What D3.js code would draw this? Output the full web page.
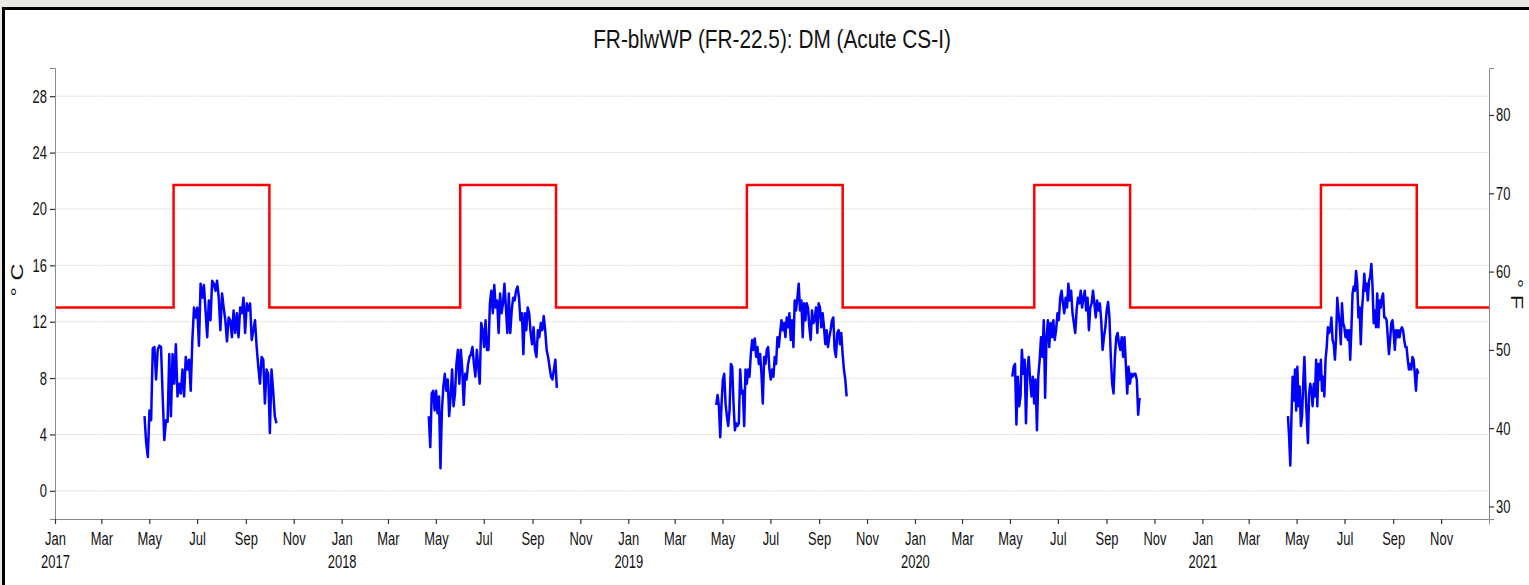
<!DOCTYPE html>
<html>
<head>
<meta charset="utf-8">
<script src="https://cdn.jsdelivr.net/npm/d3@7"></script>
<style>
  body { margin: 0; background-color: #e9e9e5; overflow: hidden; }
  text { font-family: 'Liberation Sans', Arial, sans-serif; }
</style>
</head>
<body>
<div id="container"></div>
<script>
// tick labels
const celsiusTicks = [0, 4, 8, 12, 16, 20, 24, 28];
const fahrenheitTicks = [30, 40, 50, 60, 70, 80];
const monthLabels = ['Jan', 'Mar', 'May', 'Jul', 'Sep', 'Nov'];

// threshold (red step line)
const thresholdDates = ['2017-01-01', '2017-06-01', '2017-10-01', '2018-06-01', '2018-10-01',
  '2019-06-01', '2019-10-01', '2020-06-01', '2020-10-01', '2021-06-01', '2021-10-01', '2022-01-01'];
const thresholdValues = [13, 21.7, 13, 21.7, 13, 21.7, 13, 21.7, 13, 21.7, 13, 13];

// measured temperature, one array per season (deg C)
const seasonStarts = ['2017-04-25', '2018-04-22', '2019-04-23', '2020-05-04', '2021-04-20'];
const seasonEnds = ['2017-10-10', '2018-10-02', '2019-10-06', '2020-10-13', '2021-10-03'];

const temps2017 = [5.3, 3.4, 2.4, 5.7, 5.0, 10.1, 10.2, 7.9, 10.0, 10.3, 10.2, 6.7, 3.6, 5.0, 4.9, 9.7,
  5.3, 9.7, 7.6, 10.4, 6.7, 7.6, 6.9, 8.6, 6.7, 9.5, 8.6, 9.3, 7.1, 10.7, 13.0, 12.3, 13.0, 10.3, 14.7,
  13.7, 14.6, 12.8, 10.9, 13.5, 12.1, 14.9, 14.7, 14.2, 14.9, 13.7, 11.4, 14.0, 13.0, 12.1, 10.6, 12.3,
  12.1, 10.9, 12.8, 11.2, 12.6, 10.9, 13.0, 12.6, 13.7, 11.2, 13.3, 12.8, 13.3, 10.7, 11.4, 12.1, 10.2,
  8.8, 7.6, 9.5, 9.3, 6.2, 8.6, 8.3, 4.1, 8.6, 7.1, 5.3, 4.8];

const temps2018 = [5.3, 3.1, 6.9, 7.1, 5.7, 7.1, 5.5, 6.7, 1.6, 5.7, 7.4, 8.3, 7.1, 7.9, 5.3, 6.7, 8.6,
  6.0, 6.9, 9.0, 10.0, 7.6, 10.0, 8.6, 6.1, 8.3, 7.9, 9.0, 9.5, 9.7, 10.2, 9.0, 8.1, 10.0, 8.8, 7.6, 11.9,
  11.4, 10.2, 12.1, 10.0, 10.0, 13.3, 14.2, 12.6, 14.6, 13.0, 13.5, 11.2, 14.0, 12.6, 13.3, 14.7, 13.0,
  11.2, 14.0, 11.2, 12.8, 13.7, 13.5, 14.2, 14.5, 13.7, 12.1, 12.6, 9.7, 12.6, 11.4, 13.0, 12.6, 11.2,
  10.4, 11.6, 10.0, 9.5, 11.4, 10.9, 11.9, 11.4, 12.4, 11.4, 10.0, 9.5, 8.8, 8.1, 7.9, 8.6, 9.3, 7.3];

const temps2019 = [6.1, 6.8, 6.0, 3.8, 6.2, 7.9, 8.3, 6.2, 5.3, 4.6, 5.7, 9.0, 8.8, 6.2, 4.3, 4.8, 4.6,
  4.8, 8.6, 6.9, 7.1, 4.6, 8.6, 7.6, 8.6, 8.1, 9.7, 10.7, 10.0, 10.8, 9.5, 10.2, 9.0, 9.7, 8.3, 6.2, 9.5,
  9.0, 10.0, 10.2, 8.6, 7.9, 8.6, 8.1, 9.5, 9.0, 10.9, 10.2, 11.2, 12.1, 11.4, 11.9, 10.9, 12.3, 11.6,
  12.6, 10.7, 12.1, 10.2, 13.5, 12.8, 13.7, 14.7, 12.8, 13.5, 10.9, 13.3, 12.1, 13.3, 13.0, 11.6, 10.7,
  12.8, 11.9, 12.1, 13.0, 11.2, 13.3, 13.0, 11.6, 12.6, 11.6, 10.4, 11.4, 10.2, 10.9, 11.4, 12.1, 12.3,
  10.0, 9.5, 11.2, 11.4, 10.4, 11.2, 9.7, 8.6, 7.9, 6.7];

const temps2020 = [8.1, 8.8, 9.0, 4.7, 8.1, 6.0, 6.7, 10.0, 8.3, 9.3, 4.8, 8.6, 9.5, 7.9, 6.7, 8.1, 6.2,
  7.9, 4.3, 8.1, 9.3, 10.9, 9.5, 12.1, 6.6, 10.9, 12.1, 10.2, 11.9, 10.9, 12.1, 10.7, 11.4, 12.6, 12.1,
  13.7, 14.2, 13.3, 12.6, 13.7, 13.0, 14.7, 13.5, 14.2, 12.6, 11.9, 11.2, 12.8, 13.7, 13.3, 14.2, 13.0,
  13.7, 14.2, 12.8, 13.7, 11.4, 13.0, 13.3, 14.2, 13.3, 12.3, 13.5, 12.8, 13.3, 12.1, 10.0, 10.9, 11.6,
  12.8, 13.4, 12.3, 9.5, 7.6, 6.9, 9.5, 10.9, 11.2, 10.4, 10.0, 10.9, 9.5, 10.9, 9.0, 6.9, 8.8, 7.6, 8.3,
  8.1, 8.3, 8.3, 7.9, 5.4, 6.6];

const temps2021 = [5.3, 3.8, 1.8, 5.3, 8.1, 6.4, 8.6, 5.7, 8.8, 6.0, 7.4, 4.6, 5.3, 7.6, 9.5, 7.1, 5.3,
  3.4, 6.9, 7.6, 7.1, 6.0, 7.6, 6.7, 9.3, 6.0, 9.0, 7.9, 9.3, 7.1, 8.1, 6.7, 9.3, 10.2, 11.6, 11.2, 11.4,
  12.3, 10.7, 10.4, 9.3, 10.9, 13.7, 12.6, 11.9, 10.4, 13.3, 11.9, 11.6, 10.9, 11.4, 10.7, 11.4, 9.3,
  11.4, 14.0, 14.5, 14.2, 15.6, 14.7, 12.3, 13.0, 10.4, 12.8, 14.0, 15.4, 14.2, 14.7, 13.5, 14.9, 15.2,
  16.1, 14.5, 11.9, 12.8, 11.6, 14.0, 11.6, 13.5, 13.0, 13.7, 14.0, 12.3, 12.3, 12.1, 10.9, 9.7, 10.7,
  11.9, 12.1, 11.2, 10.0, 11.4, 10.9, 11.4, 10.9, 11.4, 11.6, 11.4, 10.7, 10.2, 10.2, 9.3, 8.6, 9.0, 8.6,
  9.5, 9.3, 8.3, 7.1, 8.6, 8.3];

const seasonTemps = [temps2017, temps2018, temps2019, temps2020, temps2021];

let svg, xScale, yScale, fScale,
  svgWidth = 1529,
  svgHeight = 585,
  plotLeft = 55,
  plotRight = 1489,
  plotTop = 68,
  plotBottom = 519,
  squeeze = 0.7; // the source picture is horizontally squashed, text included

const parseDate = d3.timeParse('%Y-%m-%d');

const drawGraph = () => {
  svg = d3.select('#container')
    .append('svg')
    .attr('width', svgWidth)
    .attr('height', svgHeight)
    .style('display', 'block');

  svg.append('rect')
    .attr('x', 3.5)
    .attr('y', 8.5)
    .attr('width', svgWidth + 20)
    .attr('height', svgHeight + 20)
    .attr('fill', 'white')
    .attr('stroke', 'black')
    .attr('stroke-width', 3);

  svg.append('text')
    .attr('transform', `translate(${(plotLeft + plotRight) / 2},48) scale(0.8,1)`)
    .attr('text-anchor', 'middle')
    .attr('font-size', 26)
    .attr('fill', '#111')
    .text('FR-blwWP (FR-22.5): DM (Acute CS-I)');
};

const generateScales = () => {
  xScale = d3.scaleTime()
    .domain([parseDate('2017-01-01'), parseDate('2022-01-01')])
    .range([plotLeft, plotRight]);

  yScale = d3.scaleLinear().domain([-2, 30]).range([plotBottom, plotTop]);
  fScale = d3.scaleLinear().domain([-2 * 9 / 5 + 32, 30 * 9 / 5 + 32]).range([plotBottom, plotTop]);
};

const monthTicks = () => d3.timeMonth.every(2).range(parseDate('2017-01-01'), parseDate('2021-12-31'));

const drawGrid = () => {
  svg.append('g')
    .selectAll('line')
    .data(celsiusTicks)
    .enter()
    .append('line')
    .attr('x1', plotLeft)
    .attr('x2', plotRight)
    .attr('y1', (d) => yScale(d))
    .attr('y2', (d) => yScale(d))
    .attr('stroke', '#e6e6e6')
    .attr('stroke-width', 1);

  svg.append('g')
    .selectAll('line')
    .data(monthTicks())
    .enter()
    .append('line')
    .attr('x1', (d) => xScale(d))
    .attr('x2', (d) => xScale(d))
    .attr('y1', plotTop)
    .attr('y2', plotBottom)
    .attr('stroke', 'white')
    .attr('stroke-width', 1);
};

const drawLines = () => {
  const thresholdData = thresholdDates.map((d, i) => ({ date: parseDate(d), value: thresholdValues[i] }));

  const stepLine = d3.line()
    .curve(d3.curveStepAfter)
    .x((d) => xScale(d.date))
    .y((d) => yScale(d.value));

  svg.append('path')
    .datum(thresholdData)
    .attr('d', stepLine)
    .attr('fill', 'none')
    .attr('stroke', '#ff0000')
    .attr('stroke-width', 2.5);

  const tempLine = d3.line()
    .x((d) => xScale(d.date))
    .y((d) => yScale(d.value));

  seasonTemps.forEach((values, i) => {
    const start = parseDate(seasonStarts[i]).getTime();
    const end = parseDate(seasonEnds[i]).getTime();
    const when = d3.scaleLinear().domain([0, values.length - 1]).range([start, end]);
    const series = values.map((v, j) => ({ date: new Date(when(j)), value: v }));

    svg.append('path')
      .datum(series)
      .attr('d', tempLine)
      .attr('fill', 'none')
      .attr('stroke', '#0000ff')
      .attr('stroke-width', 2.5)
      .attr('stroke-linejoin', 'round');
  });
};

const generateAxes = () => {
  const leftAxis = d3.axisLeft(yScale).tickValues(celsiusTicks).tickSize(5).tickPadding(3);
  const rightAxis = d3.axisRight(fScale).tickValues(fahrenheitTicks).tickSize(5).tickPadding(3);
  const bottomAxis = d3.axisBottom(xScale)
    .tickValues(monthTicks())
    .tickSize(5)
    .tickPadding(8)
    .tickFormat((d) => monthLabels[d.getMonth() / 2]);

  const gl = svg.append('g').attr('transform', `translate(${plotLeft},0)`).call(leftAxis);
  const gr = svg.append('g').attr('transform', `translate(${plotRight},0)`).call(rightAxis);
  const gb = svg.append('g').attr('transform', `translate(0,${plotBottom})`).call(bottomAxis);

  [gl, gr, gb].forEach((g) => {
    g.attr('font-family', null).attr('font-size', null);
    g.select('.domain').attr('stroke', '#8a8a8a').attr('stroke-width', 1);
    g.selectAll('.tick line').attr('stroke', '#333').attr('stroke-width', 1.2);
    g.selectAll('.tick text')
      .attr('font-size', 18.5)
      .attr('fill', '#111')
      .attr('transform', `scale(${squeeze},1)`);
  });

  gl.selectAll('.tick text').attr('x', -8 / squeeze);
  gr.selectAll('.tick text').attr('x', 7 / squeeze);

  gb.selectAll('.tick')
    .filter((d) => d.getMonth() === 0)
    .append('text')
    .attr('y', 49)
    .attr('text-anchor', 'middle')
    .attr('font-size', 18.5)
    .attr('fill', '#111')
    .attr('transform', `scale(${squeeze},1)`)
    .text((d) => d.getFullYear());

  svg.append('text')
    .attr('transform', `translate(23,280) rotate(-90) scale(1,${squeeze})`)
    .attr('text-anchor', 'middle')
    .attr('font-size', 23.5)
    .attr('fill', '#111')
    .text('° C');

  svg.append('text')
    .attr('transform', `translate(1511,294) rotate(90) scale(1,${squeeze})`)
    .attr('text-anchor', 'middle')
    .attr('font-size', 23.5)
    .attr('fill', '#111')
    .text('° F');
};

drawGraph();
generateScales();
drawGrid();
drawLines();
generateAxes();
</script>
</body>
</html>
